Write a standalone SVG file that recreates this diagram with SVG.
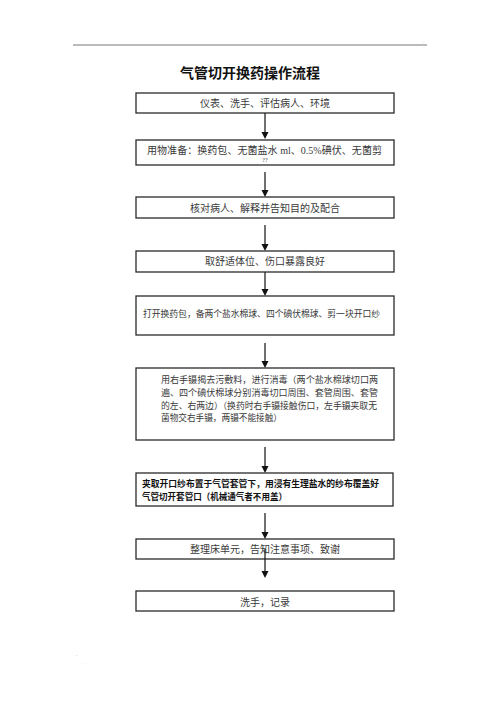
<svg xmlns="http://www.w3.org/2000/svg" width="500" height="708" viewBox="0 0 500 708">
<style>
.box{fill:#fff;stroke:#2a2a2a;stroke-width:1.3}
.t{font-family:"Liberation Serif","Noto Sans CJK SC",serif;fill:#3a3a3a;dominant-baseline:central}
.c{text-anchor:middle;font-size:10px}
.s{font-size:9px}
.b{font-family:"Liberation Sans","Noto Sans CJK SC",sans-serif;font-weight:bold;fill:#111;font-size:9px;dominant-baseline:central}
.ln{stroke:#111;stroke-width:1.2;fill:none}
</style>
<defs>
<marker id="ah" markerWidth="7" markerHeight="7" refX="3.5" refY="7" orient="auto" markerUnits="userSpaceOnUse" viewBox="0 0 7 7">
<path d="M0,0 L7,0 L3.5,7 Z" fill="#111"/>
</marker>
</defs>
<rect width="500" height="708" fill="#fff"/>
<line x1="73" y1="45" x2="427" y2="45" stroke="#777" stroke-width="1"/>
<text x="423" y="43" font-family="Liberation Sans, sans-serif" font-size="5" fill="#999">.</text>
<text x="76" y="659" font-family="Liberation Sans, sans-serif" font-size="5" fill="#aaa">'</text>
<text x="82" y="664" font-family="Liberation Sans, sans-serif" font-size="5" fill="#bbb">.</text>
<text x="250" y="73" font-family="Liberation Sans,'Noto Sans CJK SC',sans-serif" font-weight="bold" font-size="14" text-anchor="middle" dominant-baseline="central" fill="#111">气管切开换药操作流程</text>

<g id="connectors">
<line class="ln" x1="265" y1="113" x2="265" y2="133" style="marker-end:none"/>
<path d="M261.5,132 L268.5,132 L265,139 Z" fill="#111"/>
<line class="ln" x1="265" y1="172" x2="265" y2="191"/>
<path d="M261.5,190 L268.5,190 L265,197 Z" fill="#111"/>
<line class="ln" x1="265" y1="225" x2="265" y2="245"/>
<path d="M261.5,244 L268.5,244 L265,251 Z" fill="#111"/>
<line class="ln" x1="265" y1="272" x2="265" y2="290"/>
<path d="M261.5,289 L268.5,289 L265,296 Z" fill="#111"/>
<line class="ln" x1="265" y1="343" x2="265" y2="362"/>
<path d="M261.5,361 L268.5,361 L265,368 Z" fill="#111"/>
<line class="ln" x1="265" y1="447" x2="265" y2="467"/>
<path d="M261.5,466 L268.5,466 L265,473 Z" fill="#111"/>
<line class="ln" x1="265" y1="513" x2="265" y2="533"/>
<path d="M261.5,532 L268.5,532 L265,539 Z" fill="#111"/>
</g>

<g id="n1"><rect class="box" x="136" y="93" width="258" height="20"/><text class="t c" x="265" y="103">仪表、洗手、评估病人、环境</text></g>
<g id="n2"><rect class="box" x="136" y="140" width="258" height="25"/><text class="t s" x="147" y="150" textLength="235" lengthAdjust="spacingAndGlyphs" style="font-size:10px">用物准备：换药包、无菌盐水 ml、0.5%碘伏、无菌剪</text><text class="t" x="265" y="160" text-anchor="middle" font-size="6" fill="#888">??</text></g>
<g id="n3"><rect class="box" x="136" y="197" width="258" height="21"/><text class="t c" x="265" y="208">核对病人、解释并告知目的及配合</text></g>
<g id="n4"><rect class="box" x="136" y="251" width="258" height="21"/><text class="t c" x="265" y="261">取舒适体位、伤口暴露良好</text></g>
<g id="n5"><rect class="box" x="136" y="296" width="258" height="39"/><text class="t s" x="143" y="314" textLength="237" lengthAdjust="spacingAndGlyphs">打开换药包，备两个盐水棉球、四个碘伏棉球、剪一块开口纱</text></g>
<g id="n6"><rect class="box" x="136" y="368" width="258" height="72"/>
<text class="t s" x="161" y="380" textLength="217" lengthAdjust="spacingAndGlyphs">用右手镊揭去污敷料，进行消毒（两个盐水棉球切口两</text>
<text class="t s" x="161" y="393" textLength="217" lengthAdjust="spacingAndGlyphs">遍、四个碘伏棉球分别消毒切口周围、套管周围、套管</text>
<text class="t s" x="161" y="406" textLength="216" lengthAdjust="spacingAndGlyphs">的左、右两边）（换药时右手镊接触伤口，左手镊夹取无</text>
<text class="t s" x="161" y="418" textLength="121" lengthAdjust="spacingAndGlyphs">菌物交右手镊，两镊不能接触）</text></g>
<g id="n7"><rect class="box" x="136" y="473" width="257" height="33"/>
<text class="b" x="142" y="484" textLength="237" lengthAdjust="spacingAndGlyphs">夹取开口纱布置于气管套管下，用浸有生理盐水的纱布覆盖好</text>
<text class="b" x="142" y="497" textLength="145" lengthAdjust="spacingAndGlyphs">气管切开套管口（机械通气者不用盖）</text></g>
<g id="n8"><rect class="box" x="136" y="539" width="258" height="20"/><text class="t c" x="265" y="549">整理床单元，告知注意事项、致谢</text></g>
<g id="n9"><rect class="box" x="136" y="591" width="258" height="20"/><text class="t c" x="265" y="602">洗手，记录</text></g>
<g id="connectors2">
<line class="ln" x1="265" y1="549" x2="265" y2="572"/>
<path d="M261.5,571 L268.5,571 L265,578 Z" fill="#111"/>
</g>
</svg>
